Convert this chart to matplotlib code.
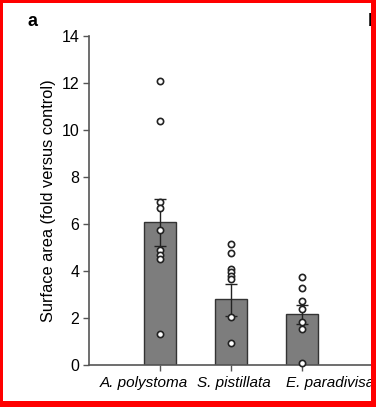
import matplotlib
matplotlib.use("Agg")
import matplotlib.pyplot as plt
from matplotlib.patches import Rectangle

plt.rcParams['font.family'] = ['Liberation Sans', 'DejaVu Sans']

species = ['A. polystoma', 'S. pistillata', 'E. paradivisa']
means = [6.07, 2.8, 2.16]
err_low = [1.0, 0.7, 0.42]
err_high = [1.0, 0.65, 0.39]
points = [
    [12.1, 10.4, 6.95, 6.7, 5.75, 4.9, 4.7, 4.5, 1.3],
    [5.15, 4.75, 4.09, 3.94, 3.8, 3.66, 2.06, 0.92],
    [3.76, 3.29, 2.74, 2.37, 1.84, 1.52, 0.1],
]
label_shift = [-0.23, 0.04, 0.39]   # labels are not centred under the bars
yticks = [0, 2, 4, 6, 8, 10, 12, 14]

fig = plt.figure(figsize=(3.76, 4.07), dpi=100)
ax = fig.add_axes([89/376, 42/407, 1 - 89/376, (365-36)/407])

xs = list(range(len(species)))
ax.bar(xs, means, width=0.45, color='#7d7d7d', edgecolor='#333333', linewidth=1.0, zorder=1)
ax.errorbar(xs, means, yerr=[err_low, err_high], fmt='none', ecolor='#222222',
            elinewidth=1.0, capsize=4, capthick=1.0, zorder=2)
for x, pts in zip(xs, points):
    ax.plot([x]*len(pts), pts, 'o', mfc='white', mec='#222222', ms=4.5, mew=1.2,
            linestyle='none', zorder=3, clip_on=False)

ax.set_xlim(-1, -1 + 287/71)
ax.set_ylim(0, 14)
ax.set_yticks(yticks)
ax.set_xticks(xs)
ax.set_xticklabels([])
for x, name, dx in zip(xs, species, label_shift):
    ax.text(x + dx, -0.75, name, fontstyle='italic', fontsize=11, ha='center', va='center',
            transform=ax.transData, clip_on=False)
ax.tick_params(axis='y', labelsize=11.5, length=4, width=1, color='#555555', pad=3)
ax.tick_params(axis='x', length=4, width=1, color='#555555')
ax.set_ylabel('Surface area (fold versus control)', fontsize=11.8, labelpad=4)

for s in ['top', 'right']:
    ax.spines[s].set_visible(False)
for s in ['left', 'bottom']:
    ax.spines[s].set_color('#555555')
    ax.spines[s].set_linewidth(1.2)

fig.text(28/376, 1 - 22/407, 'a', fontsize=13, fontweight='bold', va='center', ha='left')
fig.text(367.5/376, 1 - 21/407, 'b', fontsize=13, fontweight='bold', va='center', ha='left')

# red frame around the picture
W, H = 376, 407
for (x0, y0, w, h) in [(0, 0, 3, H), (0, H-3, W, 3), (W-5, 0, 5, H), (0, 0, W, 6)]:
    fig.patches.append(Rectangle((x0/W, y0/H), w/W, h/H, transform=fig.transFigure,
                                 facecolor='red', edgecolor='none', zorder=10))

fig.savefig('out.png', dpi=100)
